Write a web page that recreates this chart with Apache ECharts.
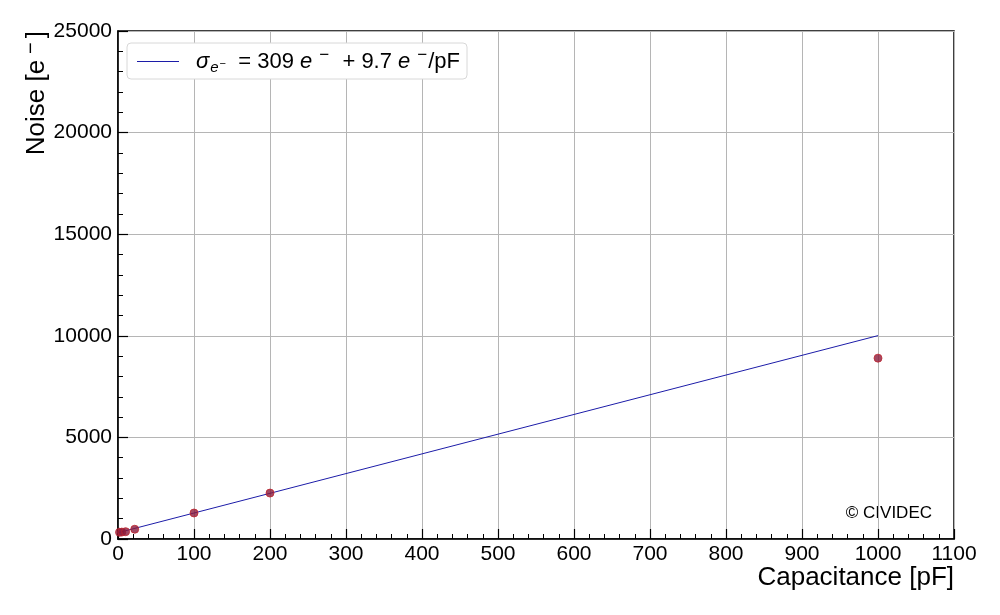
<!DOCTYPE html>
<html>
<head>
<meta charset="utf-8">
<script src="https://cdn.jsdelivr.net/npm/echarts@6/dist/echarts.min.js"></script>
<style>
  html, body { margin: 0; padding: 0; background: #fff; }
  #chart { width: 1000px; height: 615px; }
</style>
</head>
<body>
<div id="chart"></div>
<script>
// measured points (capacitance pF, noise e-)
const capValues = [2, 5, 10, 22, 100, 200, 1000];
const noiseValues = [330, 340, 360, 480, 1280, 2260, 8900];
// fit: 309 e- + 9.7 e-/pF
const fitX = [0, 1000];
const fitY = [309, 10009];
const fitName = 'fit';

const font = 'Liberation Sans, Arial, sans-serif';
const fitColor = '#1c1ca8';

const chart = echarts.init(document.getElementById('chart'));

chart.setOption({
  animation: false,
  textStyle: { fontFamily: font },
  grid: {
    left: 118, right: 46, top: 31, bottom: 76,
    show: true, borderColor: '#000', borderWidth: 1.5
  },
  legend: {
    data: [{ name: fitName, icon: 'rect' }],
    left: 127, top: 43,
    padding: [4, 7, 4, 10],
    itemWidth: 42, itemHeight: 1, itemGap: 10,
    itemStyle: { color: fitColor, borderWidth: 0 },
    backgroundColor: '#fff',
    borderColor: '#d8d8d8', borderWidth: 1, borderRadius: 4,
    formatter: function () {
      return '{it|σ}{sub|e}{sub2|−}{t|  = 309 }{it|e}{sup|−}{t|  + 9.7 }{it|e}{sup|−}{t|/pF}';
    },
    textStyle: {
      color: '#000',
      fontSize: 22,
      padding: [0, 0, 0, 12],
      rich: {
        t: { fontSize: 22, fontFamily: font, color: '#000' },
        it: { fontSize: 22, fontFamily: font, fontStyle: 'italic', color: '#000', padding: [0, 1, 0, 0] },
        sub: { fontSize: 15, fontFamily: font, fontStyle: 'italic', color: '#000', padding: [12, 0, 0, 0] },
        sub2: { fontSize: 11, fontFamily: font, color: '#000', padding: [4, 0, 0, 1] },
        sup: { fontSize: 17, fontFamily: font, color: '#000', padding: [0, 1, 12, 6] }
      }
    }
  },
  xAxis: {
    type: 'value', min: 0, max: 1100, interval: 100,
    axisLine: { show: true, onZero: false, lineStyle: { color: '#000', width: 1.5 } },
    axisTick: { show: true, inside: true, length: 10, lineStyle: { color: '#000', width: 1.2 } },
    minorTick: { show: true, splitNumber: 5, length: 5, lineStyle: { color: '#000', width: 1 } },
    splitLine: { show: true, lineStyle: { color: '#b5b5b5', width: 1 } },
    axisLabel: { color: '#000', fontSize: 21, margin: 5, fontFamily: font, formatter: v => String(v) }
  },
  yAxis: {
    type: 'value', min: 0, max: 25000, interval: 5000,
    axisLine: { show: true, onZero: false, lineStyle: { color: '#000', width: 1.5 } },
    axisTick: { show: true, inside: true, length: 10, lineStyle: { color: '#000', width: 1.2 } },
    minorTick: { show: true, splitNumber: 5, length: 5, lineStyle: { color: '#000', width: 1 } },
    splitLine: { show: true, lineStyle: { color: '#b5b5b5', width: 1 } },
    axisLabel: { color: '#000', fontSize: 21, margin: 6, fontFamily: font, formatter: v => String(v) }
  },
  graphic: [
    {
      type: 'text', x: 37, y: 31, rotation: Math.PI / 2,
      style: {
        text: '{a|Noise [e}{s|−}{a|]}', textAlign: 'right', textVerticalAlign: 'middle',
        rich: {
          a: { fontSize: 26, fontFamily: font, fill: '#000' },
          s: { fontSize: 20, fontFamily: font, fill: '#000', padding: [0, 4, 12, 6] }
        }
      }
    },
    {
      type: 'text', x: 954, y: 578,
      style: { text: 'Capacitance [pF]', fill: '#000', font: '26px ' + font, textAlign: 'right', textVerticalAlign: 'middle' }
    },
    {
      type: 'text', x: 932, y: 513,
      style: { text: '© CIVIDEC', fill: '#000', font: '17px ' + font, textAlign: 'right', textVerticalAlign: 'middle' }
    }
  ],
  series: [
    {
      name: fitName, type: 'line',
      data: fitX.map((x, i) => [x, fitY[i]]),
      showSymbol: false, symbol: 'none',
      lineStyle: { color: fitColor, width: 1 },
      itemStyle: { color: fitColor },
      z: 3
    },
    {
      name: 'data', type: 'scatter',
      data: capValues.map((x, i) => [x, noiseValues[i]]),
      symbolSize: 8,
      itemStyle: { color: '#8a1c3c', borderColor: '#c0262e', borderWidth: 1 },
      z: 4
    }
  ]
});
</script>
</body>
</html>
